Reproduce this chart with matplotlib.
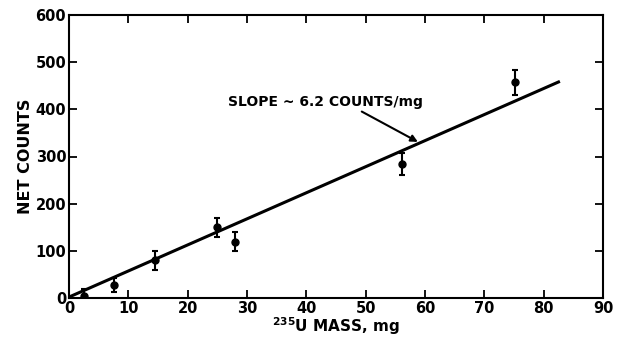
import matplotlib
matplotlib.use("Agg")
import matplotlib.pyplot as plt

# Datos
masa = [2.6, 7.6, 14.5, 25.0, 28.0, 56.1, 75.1]
cuentas = [5, 28, 80, 150, 119, 284, 457]
error = [15, 15, 20, 20, 20, 24, 27]

ajuste_x = [0, 82.5]
ajuste_y = [2, 458]

xticks = [0, 10, 20, 30, 40, 50, 60, 70, 80, 90]
yticks = [0, 100, 200, 300, 400, 500, 600]

plt.rcParams.update({
    "font.family": "DejaVu Sans",
    "font.weight": "bold",
    "font.size": 9,
})

fig = plt.figure(figsize=(6.19, 3.39), dpi=100)
ax = fig.add_axes([69 / 619, 41 / 339, 534 / 619, 283 / 339])

ax.errorbar(masa, cuentas, yerr=error, fmt="o", color="black", ms=5,
            capsize=2.5, elinewidth=1.5, capthick=1.5)
ax.plot(ajuste_x, ajuste_y, color="black", lw=2.2)

ax.annotate("SLOPE ~ 6.2 COUNTS/mg", xy=(58.8, 331), xytext=(26.8, 416),
            fontsize=10, fontweight="semibold", va="center", ha="left",
            arrowprops=dict(arrowstyle="-|>", color="black", lw=1.5,
                            shrinkA=0, shrinkB=0, mutation_scale=10,
                            relpos=(0.66, 0.0)))

ax.set_xlim(0, 90)
ax.set_ylim(0, 600)
ax.set_xticks(xticks)
ax.set_yticks(yticks)
ax.tick_params(direction="in", length=6, width=1.3, top=True, right=True,
               labelsize=10.5, pad=2)
for s in ax.spines.values():
    s.set_linewidth(1.5)

ax.set_xlabel(r"$^{\mathbf{235}}$U MASS, mg", fontsize=11, fontweight="bold",
              labelpad=0)
ax.set_ylabel("NET COUNTS", fontsize=11.5, fontweight="bold", labelpad=2)

fig.savefig("out.png", dpi=100, facecolor="white")
